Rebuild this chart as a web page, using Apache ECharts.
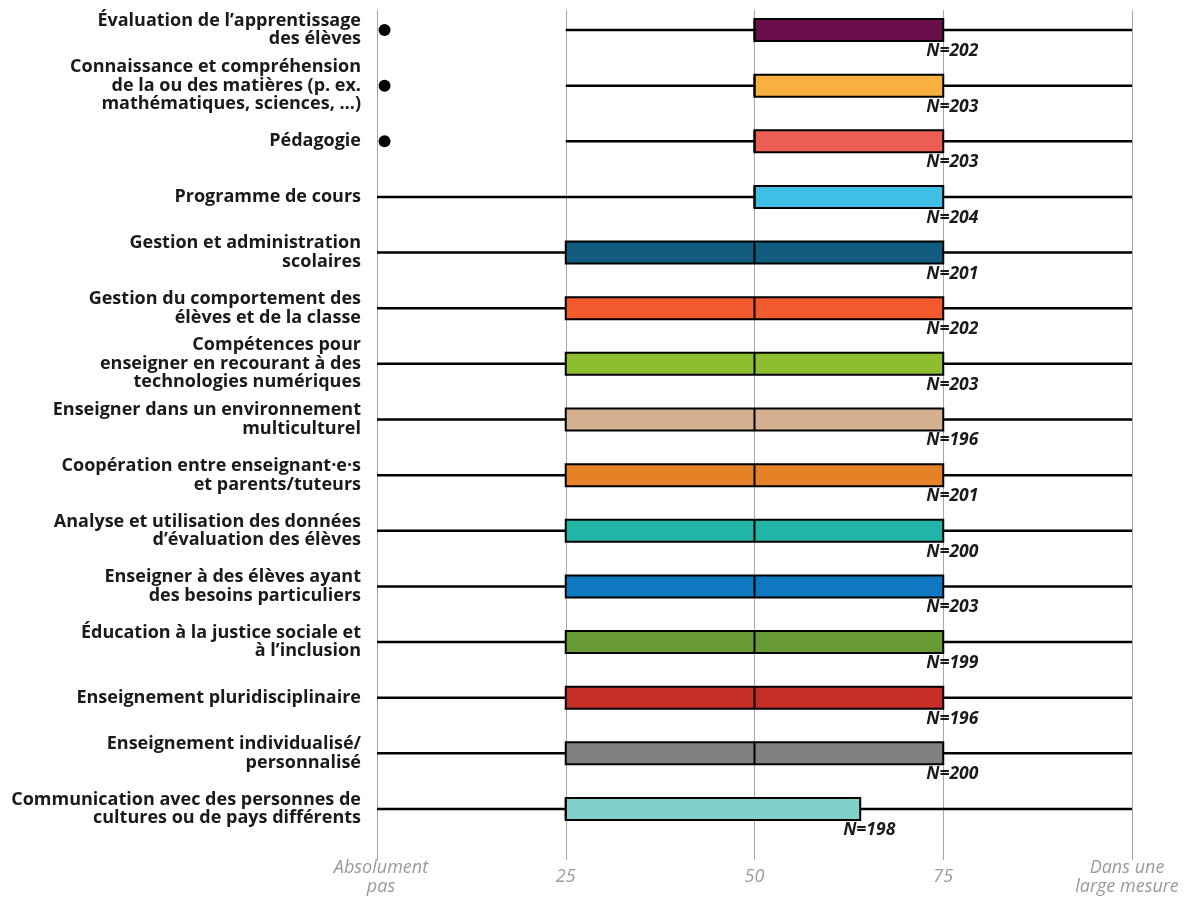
<!DOCTYPE html>
<html>
<head>
<meta charset="utf-8">
<script src="https://cdn.jsdelivr.net/npm/echarts@6/dist/echarts.min.js"></script>
<style>
  html, body { margin: 0; padding: 0; background: #fff; }
  #chart { width: 1195px; height: 897px; }
</style>
</head>
<body>
<div id="chart"></div>
<script>
// Topics, listed top to bottom
const categories = [
  "Évaluation de l’apprentissage\ndes élèves",
  "Connaissance et compréhension\nde la ou des matières (p. ex.\nmathématiques, sciences, …)",
  "Pédagogie",
  "Programme de cours",
  "Gestion et administration\nscolaires",
  "Gestion du comportement des\nélèves et de la classe",
  "Compétences pour\nenseigner en recourant à des\ntechnologies numériques",
  "Enseigner dans un environnement\nmulticulturel",
  "Coopération entre enseignant·e·s\net parents/tuteurs",
  "Analyse et utilisation des données\nd’évaluation des élèves",
  "Enseigner à des élèves ayant\ndes besoins particuliers",
  "Éducation à la justice sociale et\nà l’inclusion",
  "Enseignement pluridisciplinaire",
  "Enseignement individualisé/\npersonnalisé",
  "Communication avec des personnes de\ncultures ou de pays différents"
];

// Five-number summaries (0 = Absolument pas, 100 = Dans une large mesure)
const whiskerLow  = [25, 25, 25, 0, 0, 0, 0, 0, 0, 0, 0, 0, 0, 0, 0];
const quartile1   = [50, 50, 50, 50, 25, 25, 25, 25, 25, 25, 25, 25, 25, 25, 25];
const medians     = [50, 50, 50, 50, 50, 50, 50, 50, 50, 50, 50, 50, 50, 50, 25];
const quartile3   = [75, 75, 75, 75, 75, 75, 75, 75, 75, 75, 75, 75, 75, 75, 64];
const whiskerHigh = [100, 100, 100, 100, 100, 100, 100, 100, 100, 100, 100, 100, 100, 100, 100];
const counts      = [202, 203, 203, 204, 201, 202, 203, 196, 201, 200, 203, 199, 196, 200, 198];

// Outlying answers: [value, topic index]
const outlierValues  = [1, 1, 1];
const outlierIndices = [0, 1, 2];

const tickValues = [0, 25, 50, 75, 100];
const tickLabels = ["{first|Absolument}\n{first|pas}", "25", "50", "75", "{last|Dans une}\n{last|large mesure}"];

const boxColors = [
  "#6b0f4c", "#f8b040", "#ec5e53", "#40bfe6", "#115b7e",
  "#f05a2c", "#8fbd30", "#d5b090", "#e58126", "#20b5a6",
  "#0e78c1", "#679a34", "#c52f28", "#808080", "#80d0c9"
];

const boxData = categories.map((c, i) =>
  [i, whiskerLow[i], quartile1[i], medians[i], quartile3[i], whiskerHigh[i], counts[i]]);
const outlierData = outlierValues.map((v, k) => [v, outlierIndices[k]]);

const chart = echarts.init(document.getElementById('chart'), null, { renderer: 'canvas' });

const BOX_H = 22;

function renderBox(params, api) {
  const idx = api.value(0);
  const pLow = api.coord([api.value(1), idx]);
  const pQ1 = api.coord([api.value(2), idx]);
  const pMed = api.coord([api.value(3), idx]);
  const pQ3 = api.coord([api.value(4), idx]);
  const pHigh = api.coord([api.value(5), idx]);
  const cy = pLow[1];
  return {
    type: 'group',
    children: [
      { type: 'line', shape: { x1: pLow[0], y1: cy, x2: pHigh[0], y2: cy },
        style: { stroke: '#000', lineWidth: 2.5 } },
      { type: 'rect', shape: { x: pQ1[0], y: cy - BOX_H / 2, width: pQ3[0] - pQ1[0], height: BOX_H },
        style: { fill: boxColors[idx], stroke: '#000', lineWidth: 2 } },
      { type: 'line', shape: { x1: pMed[0], y1: cy - BOX_H / 2, x2: pMed[0], y2: cy + BOX_H / 2 },
        style: { stroke: '#000', lineWidth: 2 } },
      { type: 'text',
        style: { text: 'N=' + api.value(6), x: pQ3[0] + 9, y: cy + 21,
                 align: 'center', verticalAlign: 'middle',
                 font: 'italic bold 17.5px "Open Sans"', fill: '#1a1a1a' } }
    ]
  };
}

chart.setOption({
  animation: false,
  backgroundColor: '#fff',
  grid: [
    { left: 377, right: 63, top: 2.2, bottom: 60.2 },
    { left: 377, right: 63, top: 10, bottom: 37 }
  ],
  xAxis: [
    { gridIndex: 0, type: 'value', min: 0, max: 100, show: false },
    { gridIndex: 1, type: 'value', min: 0, max: 100, interval: 25,
      axisLine: { show: false }, axisTick: { show: false },
      splitLine: { show: true, lineStyle: { color: '#a8a8a8', width: 1 } },
      axisLabel: {
        margin: 17, verticalAlign: 'middle', lineHeight: 19,
        fontFamily: 'Open Sans', fontStyle: 'italic', fontSize: 18, color: '#9a9a9a',
        formatter: v => tickLabels[tickValues.indexOf(v)],
        rich: {
          first: { fontFamily: 'Open Sans', fontStyle: 'italic', fontSize: 18, color: '#9a9a9a',
                   lineHeight: 19, padding: [0, 0, 0, 8] },
          last: { fontFamily: 'Open Sans', fontStyle: 'italic', fontSize: 18, color: '#9a9a9a',
                  lineHeight: 19, padding: [0, 10, 0, 0] }
        }
      } }
  ],
  yAxis: [
    { gridIndex: 0, type: 'category', data: categories, inverse: true,
      axisLine: { show: false }, axisTick: { show: false }, splitLine: { show: false },
      axisLabel: { margin: 16, fontFamily: 'Open Sans', fontWeight: 'bold', fontSize: 18,
                   lineHeight: 18.5, color: '#1a1a1a', align: 'right' } },
    { gridIndex: 1, type: 'value', show: false, min: 0, max: 1 }
  ],
  series: [
    { type: 'custom', xAxisIndex: 0, yAxisIndex: 0, data: boxData,
      encode: { x: [1, 2, 3, 4, 5], y: 0 }, renderItem: renderBox, clip: false, z: 3 },
    { type: 'scatter', xAxisIndex: 0, yAxisIndex: 0, data: outlierData,
      symbol: 'circle', symbolSize: 12, itemStyle: { color: '#000', opacity: 1 }, z: 4 }
  ]
});
</script>
</body>
</html>
